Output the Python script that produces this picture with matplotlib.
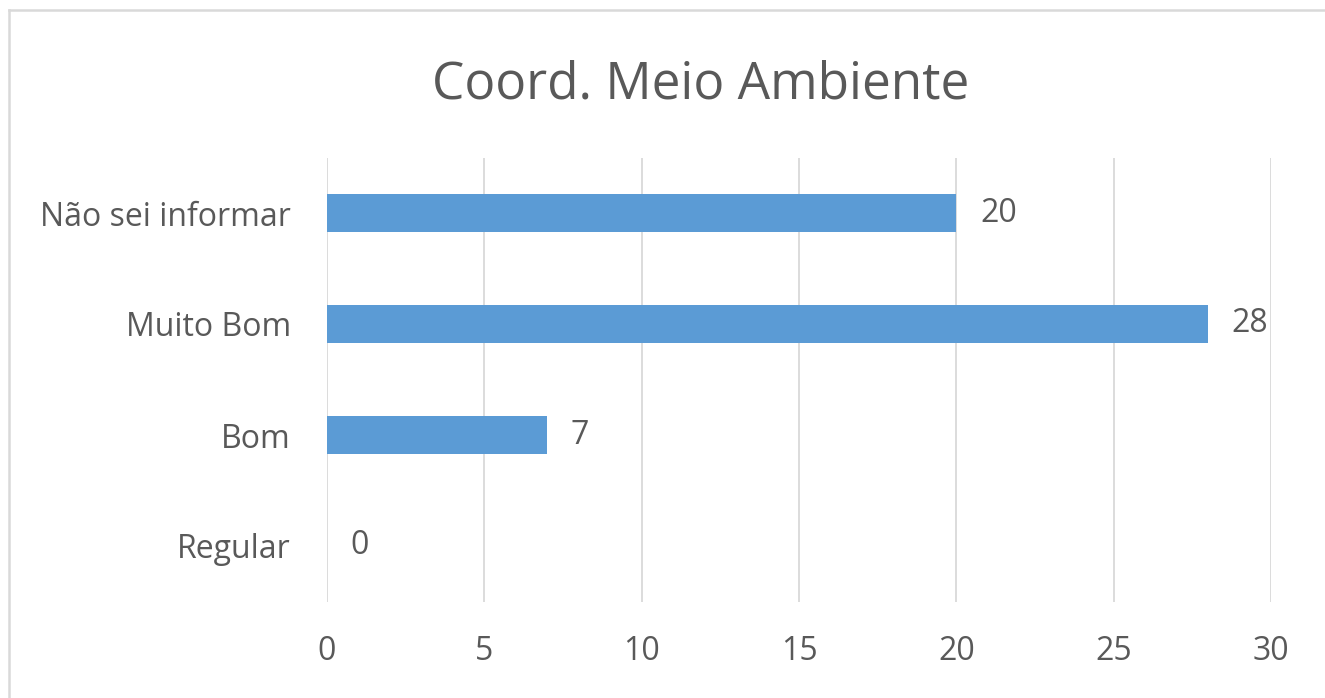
import matplotlib.pyplot as plt
from matplotlib.lines import Line2D

categories = ['Regular', 'Bom', 'Muito Bom', 'Não sei informar']
values = [0, 7, 28, 20]
x_ticks = [0, 5, 10, 15, 20, 25, 30]

BAR_COLOR = '#5b9bd5'
TEXT_COLOR = '#595959'
GRID_COLOR = '#d9d9d9'

plt.rcParams['font.family'] = ['Open Sans', 'DejaVu Sans']

fig = plt.figure(figsize=(13.25, 6.98), dpi=100)
W, H = 1325, 698
# plot area in pixels: left 327, right 1271, top 157.5, bottom 601.5
ax = fig.add_axes([327 / W, 1 - 601.5 / H, (1271 - 327) / W, (601.5 - 157.5) / H])

y = range(len(categories))
ax.barh(y, values, height=0.345, color=BAR_COLOR, zorder=3)
for yi, v in zip(y, values):
    ax.text(v + 0.75, yi, str(v), va='center', ha='left',
            fontsize=23, color=TEXT_COLOR)

ax.set_xlim(0, 30)
ax.set_ylim(-0.5, len(categories) - 0.5)
ax.set_xticks(x_ticks)
ax.set_yticks(list(y))
ax.set_yticklabels(categories)
ax.tick_params(axis='both', length=0, labelsize=23, labelcolor=TEXT_COLOR)
ax.tick_params(axis='x', pad=24)
ax.tick_params(axis='y', pad=26)
ax.grid(axis='x', color=GRID_COLOR, linewidth=1.3, zorder=0)
for s in ax.spines.values():
    s.set_visible(False)

fig.text(701 / W, 1 - 85 / H, 'Coord. Meio Ambiente', ha='center', va='center',
         fontsize=37, color=TEXT_COLOR)

# chart frame (top and left edges only)
fig.add_artist(Line2D([9 / W, 1], [1 - 10 / H, 1 - 10 / H], color=GRID_COLOR, linewidth=1.8))
fig.add_artist(Line2D([9 / W, 9 / W], [0, 1 - 10 / H], color=GRID_COLOR, linewidth=1.8))

fig.savefig('out.png', dpi=100, facecolor='white')
